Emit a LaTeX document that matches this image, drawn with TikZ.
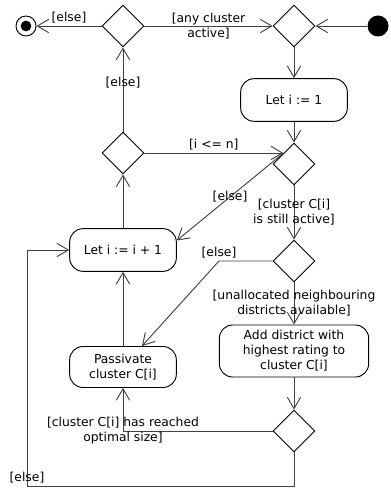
\documentclass[tikz,border=0pt]{standalone}
\usepackage{fontspec}
\setmainfont{DejaVu Sans}
\usepackage{tikz}
\usetikzlibrary{shapes.geometric, arrows.meta, calc}

\begin{document}
\begin{tikzpicture}[
    x=0.75pt, y=-0.75pt,
    line width=0.7pt,
    font=\fontsize{9.25}{11.25}\selectfont,
    actnode/.style={draw, rounded corners=10pt, minimum width=80pt, minimum height=32pt, align=center},
    decnode/.style={draw, diamond, minimum width=31.5pt, minimum height=31.5pt, inner sep=0pt},
    startdot/.style={circle, fill, minimum size=15.75pt, inner sep=0pt},
    enddot/.style={circle, draw, minimum size=15pt, inner sep=0pt, path picture={\fill (path picture bounding box.center) circle (4pt);}},
    flow/.style={draw=black!75, -{Straight Barb[length=8.5pt, width=10pt]}},
    guard/.style={align=center, inner sep=1.5pt}
]
    \useasboundingbox (0,0) rectangle (390,488);

    % Start and end
    \node[startdot] (start) at (378,26) {};
    \node[enddot] (finish) at (26,26) {};

    % Decisions
    \node[decnode] (anyd) at (123,26) {};
    \node[decnode] (mergetop) at (294,26) {};
    \node[decnode] (loopd) at (123,153) {};
    \node[decnode] (ilen) at (294,164) {};
    \node[decnode] (availd) at (294,261) {};
    \node[decnode] (sized) at (294,431) {};

    % Actions
    \node[actnode] (leti) at (294,100) {Let i := 1};
    \node[actnode] (inci) at (123,250) {Let i := i + 1};
    \node[actnode, minimum height=30.75pt] (passive) at (123,367) {Passivate\\cluster C[i]};
    \node[actnode, minimum width=112pt, minimum height=39pt] (adddist) at (294,351) {Add district with\\highest rating to\\cluster C[i]};

    % Bends
    \coordinate (elsebend) at (219,261);
    \coordinate (loopcorner) at (27,486);

    % Connections
    \draw[flow] (start) -- (mergetop);
    \draw[flow] (anyd) -- (mergetop) node[midway, guard] {[any cluster\\active]};
    \draw[flow] (anyd) -- (finish) node[midway, above, guard] {[else]};
    \draw[flow] (mergetop) -- (leti);
    \draw[flow] (leti) -- (ilen);
    \draw[flow] (loopd) -- (loopd -| ilen.north west) node[midway, above, guard] {[i <= n]};
    \draw[flow] (ilen.north west) -- (inci.10) node[midway, guard] {[else]};
    \draw[flow] (ilen) -- (availd) node[midway, guard] {[cluster C[i]\\is still active]};
    \draw[flow] (availd) -- (elsebend) node[above, guard] {[else]} -- (passive);
    \draw[flow] (availd) -- (adddist) node[midway, guard] {[unallocated neighbouring\\districts available]};
    \draw[flow] (adddist) -- (sized);
    \draw[flow] (sized) -| (passive) node[pos=0.5, guard] {[cluster C[i] has reached\\optimal size]};
    \draw[flow] (sized) |- (loopcorner) node[above, guard] {[else]} |- (inci);
    \draw[flow] (inci) -- (loopd);
    \draw[flow] (loopd) -- (anyd) node[pos=0.58, guard] {[else]};
    \draw[flow] (passive) -- (inci);

\end{tikzpicture}
\end{document}
